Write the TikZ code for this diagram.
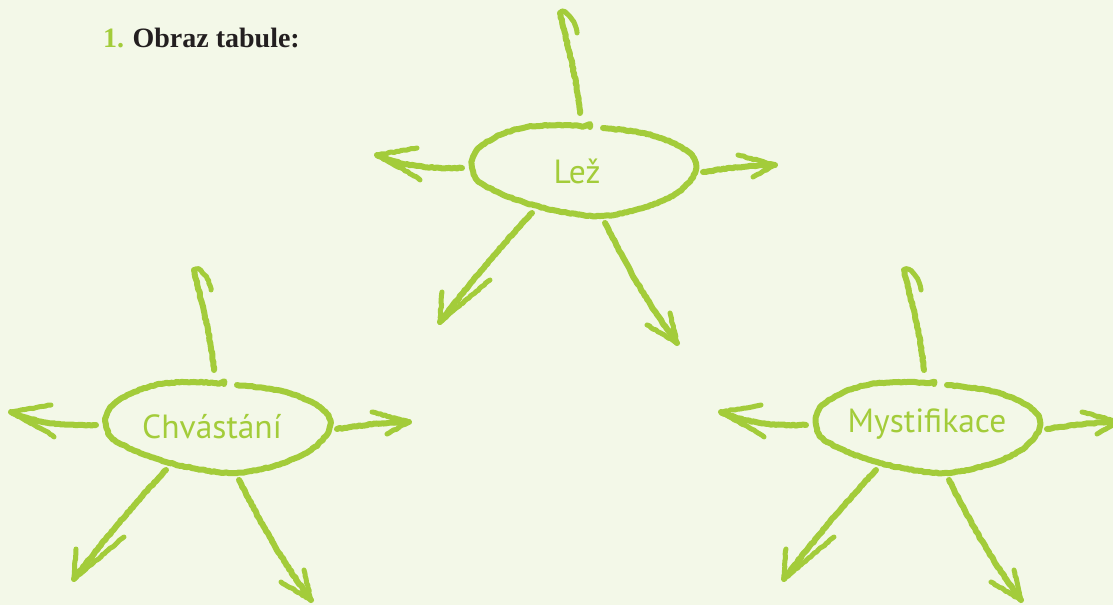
\documentclass[tikz,border=0pt]{standalone}
\usepackage{fontspec}
\setmainfont{Liberation Serif}
\newfontfamily\labelfont{PT Sans}
\usetikzlibrary{decorations.pathmorphing}
\definecolor{bg}{HTML}{F3F8E8}
\definecolor{chalk}{HTML}{A3CC3A}
\definecolor{ink}{HTML}{231F20}
\tikzset{
  rough/.style={decorate, decoration={random steps, segment length=2.5pt, amplitude=0.5pt}},
  chalkline/.style={draw=chalk, line width=6pt, line cap=round, line join=round, rough},
  barbline/.style={chalkline, line width=5pt},
  lbl/.style={text=chalk, font=\labelfont\fontsize{33.5}{34}\selectfont, inner sep=0pt},
}
\newcommand\mycluster[4]{%
\begin{scope}[shift={(#2)}]
  \node[lbl] (#1) at (#3) {#4};
  % hand-drawn ellipse around the label
  \draw[chalkline] plot[smooth, tension=0.6] coordinates {(5,-45) (-25,-47) (-58,-45) (-85,-37) (-105,-25) (-112,-15) (-113,-5) (-108,8) (-92,18) (-68,28) (-32,38) (15,44) (58,36) (92,21) (110,1) (108,-15) (88,-29) (58,-39) (18,-44)};
  % arrow anchors
  \coordinate (#1-us) at (-5,-59);   \coordinate (#1-ut) at (-25,-159);
  \coordinate (#1-uh) at (-8,-139);
  \coordinate (#1-ls) at (-123,-4);  \coordinate (#1-lt) at (-208,-17);
  \coordinate (#1-la) at (-168,-24); \coordinate (#1-lb) at (-165,8);
  \coordinate (#1-rs) at (118,0);    \coordinate (#1-rt) at (190,-7);
  \coordinate (#1-ra) at (153,-17);  \coordinate (#1-rb) at (168,5);
  \coordinate (#1-as) at (-53,41);   \coordinate (#1-at) at (-145,150);
  \coordinate (#1-aa) at (-143,120); \coordinate (#1-ab) at (-95,108);
  \coordinate (#1-bs) at (20,51);    \coordinate (#1-bt) at (92,171);
  \coordinate (#1-ba) at (62,153);   \coordinate (#1-bb) at (85,141);
  % up
  \draw[chalkline] (#1-us) .. controls (-9,-100) and (-20,-135) .. (#1-ut);
  \draw[barbline] (#1-ut) .. controls (-20,-163) and (-10,-152) .. (#1-uh);
  % left
  \draw[chalkline] (#1-ls) .. controls (-160,-3) and (-185,-7) .. (#1-lt);
  \draw[barbline] (#1-lt) -- (#1-la);
  \draw[barbline] (#1-lt) .. controls (-190,-6) and (-175,0) .. (#1-lb);
  % right
  \draw[chalkline] (#1-rs) .. controls (142,-4) and (170,-7) .. (#1-rt);
  \draw[barbline] (#1-rt) -- (#1-ra);
  \draw[barbline] (#1-rt) -- (#1-rb);
  % lower left
  \draw[chalkline] (#1-as) .. controls (-85,75) and (-115,111) .. (#1-at);
  \draw[barbline] (#1-at) -- (#1-aa);
  \draw[barbline] (#1-at) -- (#1-ab);
  % lower right
  \draw[chalkline] (#1-bs) .. controls (42,95) and (65,135) .. (#1-bt);
  \draw[barbline] (#1-bt) -- (#1-ba);
  \draw[barbline] (#1-bt) -- (#1-bb);
\end{scope}}
\begin{document}
\begin{tikzpicture}[x=1pt,y=-1pt]
\fill[bg] (0,0) rectangle (1113,605);
\useasboundingbox (0,0) rectangle (1113,605);
\clip (0,0) rectangle (1113,605);
\node[anchor=base west, inner sep=0pt, font=\fontsize{28}{28}\selectfont\bfseries] (title) at (103,47)
  {\textcolor{chalk}{1.}\hspace{0.3em}\textcolor{ink}{Obraz tabule:}};
\mycluster{lez}{585,172}{-8,-1}{Lež}
\mycluster{chv}{219,429}{-7,-2}{Chvástání}
\mycluster{mys}{929,429}{-2,-5}{Mystifikace}
\end{tikzpicture}
\end{document}
